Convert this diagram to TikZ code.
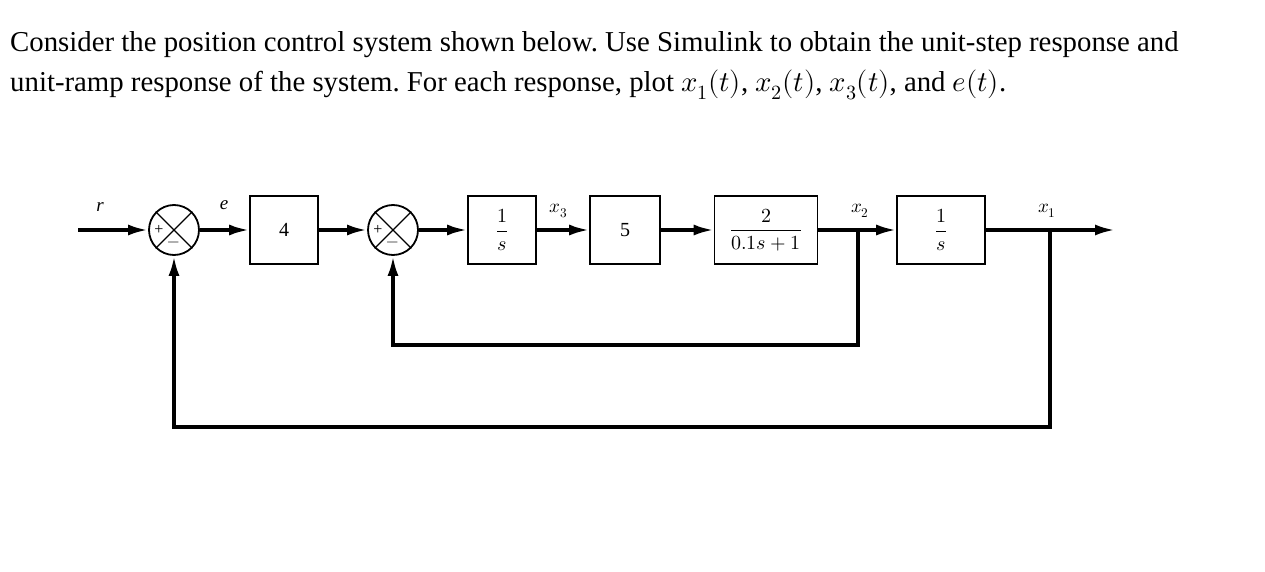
\documentclass[tikz,border=0pt]{standalone}
\usepackage{fontspec}
\setmainfont{Liberation Serif}
\usepackage{unicode-math}
\setmathfont{Latin Modern Math}
\usetikzlibrary{arrows.meta}
\frenchspacing
\begin{document}
\begin{tikzpicture}[x=1pt,y=-1pt,
  blk/.style={draw,line width=1.6pt,minimum width=68pt,minimum height=68pt,inner sep=0pt,font=\fontsize{20}{22}\selectfont},
  sig/.style={line width=3.4pt,-{Latex[length=20pt,width=11pt]}},
  lbl/.style={font=\fontsize{19}{22}\selectfont\itshape}]
\useasboundingbox (0,0) rectangle (1265,572);
\node[anchor=west,font=\fontsize{28.8}{32}\selectfont,inner sep=0pt] (t1) at (10,45) {Consider the position control system shown below. Use Simulink to obtain the unit-step response and};
\node[anchor=west,font=\fontsize{28.8}{32}\selectfont,inner sep=0pt] (t2) at (10,85) {unit-ramp response of the system. For each response, plot $x_1(t)$, $x_2(t)$, $x_3(t)$, and $e(t)$.};
\coordinate (in) at (78,230);
\node[draw,circle,line width=1.8pt,minimum size=50pt,inner sep=0pt] (s1) at (174,230) {};
\node[draw,circle,line width=1.8pt,minimum size=50pt,inner sep=0pt] (s2) at (393,230) {};
\foreach \s in {s1,s2}{
  \draw[line width=1.2pt] (\s.north west) -- (\s.south east) (\s.north east) -- (\s.south west);
  \node[font=\fontsize{16}{16}\selectfont] at ([xshift=-15pt]\s.center) {+};
  \node[font=\fontsize{16}{16}\selectfont] at ([yshift=-14pt]\s.center) {$-$};
}
\node[blk] (g4) at (284,230) {4};
\node[blk] (i1) at (502,230) {$\dfrac{1}{s}$};
\node[blk,minimum width=70pt] (g5) at (625,230) {5};
\node[blk,minimum width=103pt] (g2) at (766,230) {$\dfrac{2}{0.1s+1}$};
\node[blk,minimum width=88pt] (i2) at (941,230) {$\dfrac{1}{s}$};
\coordinate (b2) at (858,230);
\coordinate (b1) at (1050,230);
\coordinate (out) at (1115,230);
\draw[sig] (in) -- (s1);
\draw[sig] (s1) -- (g4);
\draw[sig] (g4) -- (s2);
\draw[sig] (s2) -- (i1);
\draw[sig] (i1) -- (g5);
\draw[sig] (g5) -- (g2);
\draw[sig] (g2) -- (i2);
\draw[sig] (i2) -- (out);
\coordinate (c2a) at (858,345); \coordinate (c2b) at (393,345);
\coordinate (c1a) at (1050,427); \coordinate (c1b) at (174,427);
\draw[sig] (b2) -- (c2a) -- (c2b) -- (s2);
\draw[sig] (b1) -- (c1a) -- (c1b) -- (s1);
\node[lbl] (lr) at (100,207) {r};
\node[lbl] (le) at (224,205) {e};
\node (l3) at (559,211) {\fontsize{19}{22}\selectfont$x_3$};
\node (l2) at (860,211) {\fontsize{19}{22}\selectfont$x_2$};
\node (l1) at (1047,211) {\fontsize{19}{22}\selectfont$x_1$};
\end{tikzpicture}
\end{document}
